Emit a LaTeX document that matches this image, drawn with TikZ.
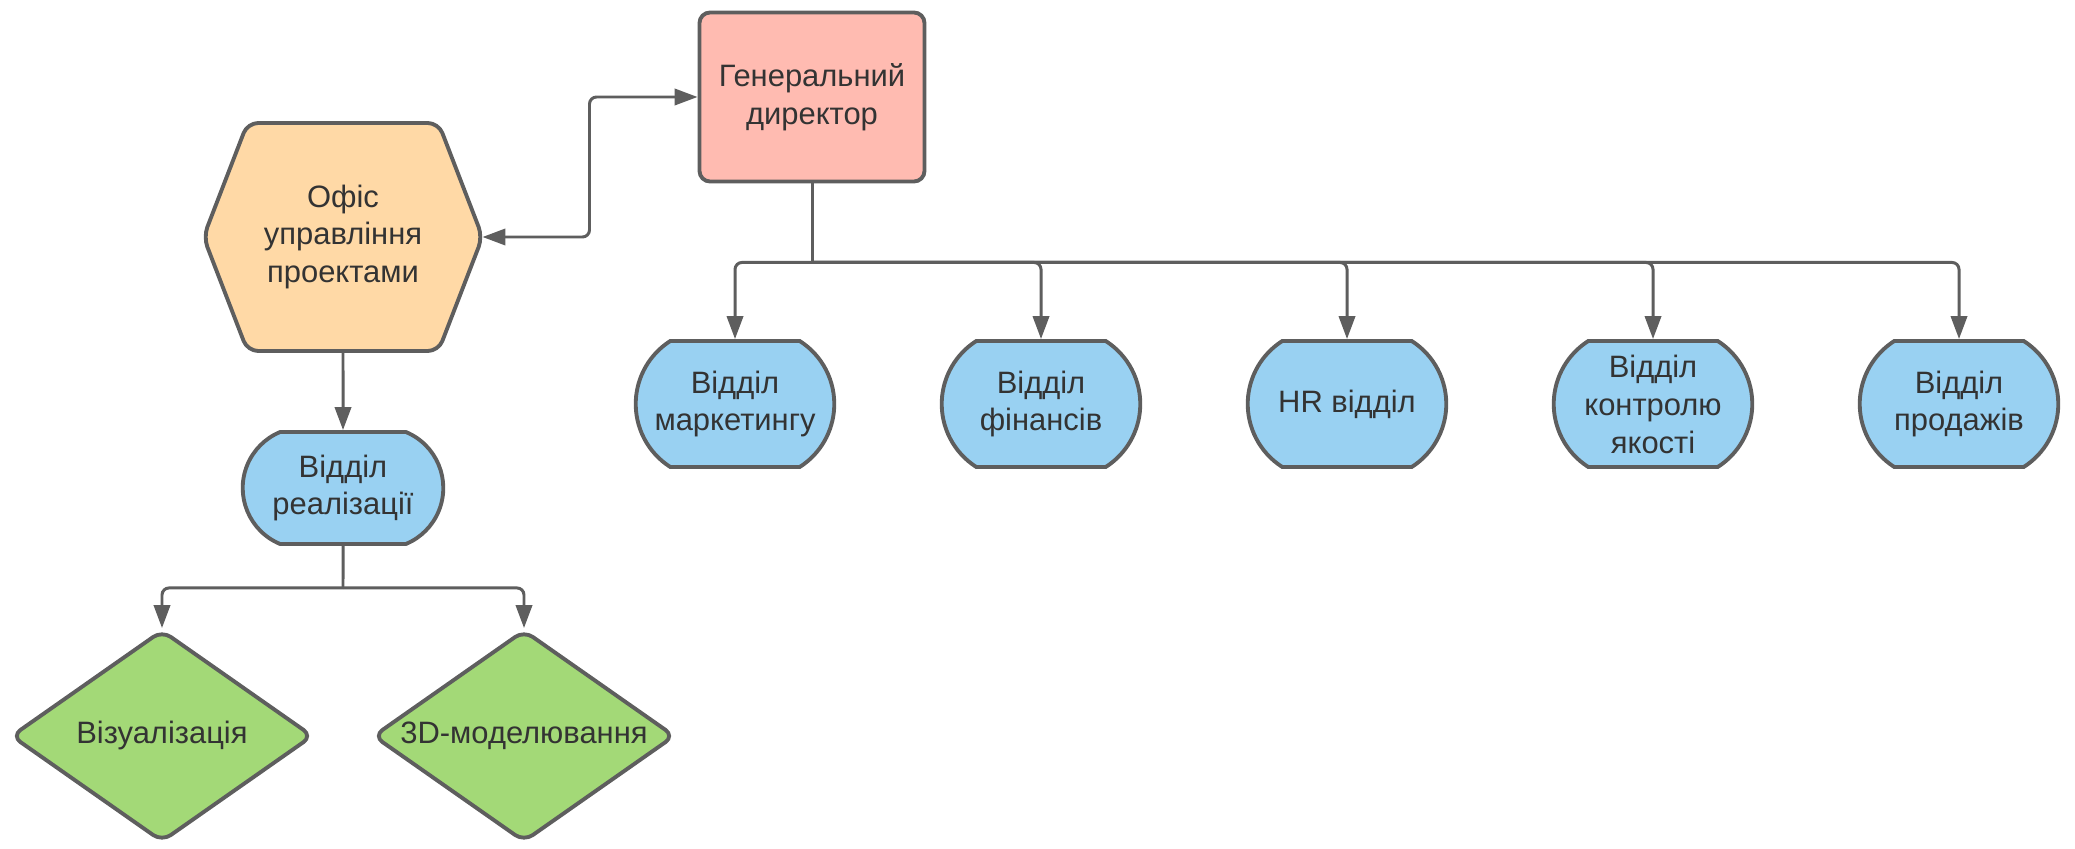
\documentclass[tikz,border=0pt]{standalone}
\usepackage{fontspec}
\setmainfont{Liberation Sans}
\usetikzlibrary{arrows.meta,shapes.geometric,shapes.misc,positioning,backgrounds}

\definecolor{linegray}{HTML}{5E5E5E}
\definecolor{textgray}{HTML}{333333}
\definecolor{bosspink}{HTML}{FFBBB1}
\definecolor{officeorange}{HTML}{FFD9A6}
\definecolor{deptblue}{HTML}{99D1F2}
\definecolor{taskgreen}{HTML}{A3D977}

\begin{document}
\begin{tikzpicture}[->,>={Triangle[length=6.5pt,width=4.6pt]},line width=0.85pt,draw=linegray,node distance=3.06cm,font=\fontsize{8.8}{10.8}\selectfont]
  \tikzstyle{box}=[draw, line width=1.1pt, align=center, text=textgray]
  \tikzstyle{boss}=[box, rectangle, rounded corners=3pt, fill=bosspink, minimum width=2.25cm, minimum height=1.69cm]
  \tikzstyle{office}=[align=center, text=textgray, minimum width=2.76cm, minimum height=2.25cm]
  \tikzstyle{dept}=[box, rounded rectangle, rounded rectangle arc length=115, fill=deptblue, minimum width=2.22cm, minimum height=1.26cm]
  \tikzstyle{task}=[box, diamond, aspect=1.42, fill=taskgreen, minimum width=3.02cm, minimum height=2.12cm, inner sep=0pt, rounded corners=3pt]
  \useasboundingbox (0,0) rectangle (20.75,-8.49);

  \node[boss] (D) at (8.12,-0.97) {Генеральний\\директор};
  \node[office] (H) at (3.43,-2.37) {Офіс\\управління\\проектами};
  \node[dept, minimum width=2.24cm, minimum height=1.12cm, rounded rectangle arc length=135] (R) [below of=H, node distance=2.51cm] {Відділ\\реалізації};
  \node[task] (V) at (1.62,-7.36) {Візуалізація};
  \node[task] (T) [right of=V, node distance=3.62cm] {3D-моделювання};
  \node[dept] (M) at (7.35,-4.04) {Відділ\\маркетингу};
  \node[dept] (F) [right of=M] {Відділ\\фінансів};
  \node[dept] (HR) [right of=F] {HR відділ};
  \node[dept] (Q) [right of=HR] {Відділ\\контролю\\якості};
  \node[dept] (S) [right of=Q] {Відділ\\продажів};

  % hexagon behind the office text
  \begin{scope}[on background layer]
    \filldraw[-, draw=linegray, fill=officeorange, line width=1.1pt, rounded corners=3pt] (H.west) -- ([xshift=0.44cm]H.north west) -- ([xshift=-0.44cm]H.north east) -- (H.east) -- ([xshift=-0.44cm]H.south east) -- ([xshift=0.44cm]H.south west) -- cycle;
  \end{scope}

  \coordinate[below=0.79cm of D] (split);
  \coordinate[below=0.42cm of R] (split2);

  \draw[<->, rounded corners=2pt] (H.east) -- ++(1.07,0) |- (D.west);
  \draw[-] (D) -- (split);
  \foreach \n in {M,F,HR,Q,S}
    \draw[rounded corners=2pt] (split) -| (\n);
  \draw (H.south) -- (R);
  \draw[-] (R) -- (split2);
  \draw[rounded corners=2pt] (split2) -| (V);
  \draw[rounded corners=2pt] (split2) -| (T);
\end{tikzpicture}
\end{document}
